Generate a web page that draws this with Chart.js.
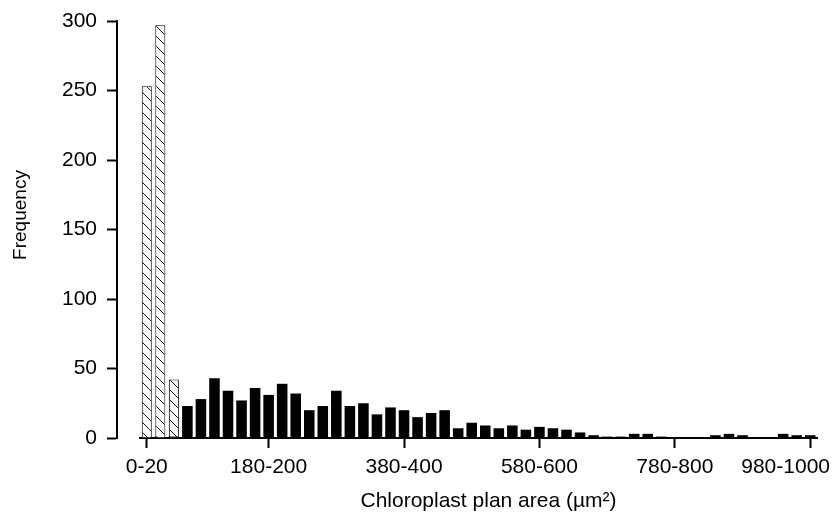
<!DOCTYPE html>
<html>
<head>
<meta charset="utf-8">
<script src="https://cdn.jsdelivr.net/npm/chart.js@4.4.1/dist/chart.umd.min.js"></script>
<style>
  html, body { margin: 0; padding: 0; background: #ffffff; }
  canvas { display: block; }
</style>
</head>
<body>
<canvas id="chart" width="840" height="524"></canvas>
<script>
// ---- data ----
const categories = [
  "0-20","20-40","40-60","60-80","80-100","100-120","120-140","140-160","160-180","180-200",
  "200-220","220-240","240-260","260-280","280-300","300-320","320-340","340-360","360-380","380-400",
  "400-420","420-440","440-460","460-480","480-500","500-520","520-540","540-560","560-580","580-600",
  "600-620","620-640","640-660","660-680","680-700","700-720","720-740","740-760","760-780","780-800",
  "800-820","820-840","840-860","860-880","880-900","900-920","920-940","940-960","960-980","980-1000"
];
const hatchedValues = [253, 297, 42];
const solidValues = [
  0, 0, 1, 23, 28, 43, 34, 27, 36, 31,
  39, 32, 20, 23, 34, 23, 25, 17, 22, 20,
  15, 18, 20, 7, 11, 9, 7, 9, 6, 8,
  7, 6, 4, 2, 1, 1, 3, 3, 1, 0,
  0, 0, 2, 3, 2, 0, 0, 3, 2, 2
];
const tickLabels = ["0-20", "180-200", "380-400", "580-600", "780-800", "980-1000"];
const yMin = 0, yMax = 300, yStep = 50;
const xTitle = "Chloroplast plan area (µm²)";
const yTitle = "Frequency";

// ---- styling ----
const FONT = "'Liberation Sans', Arial, Helvetica, sans-serif";
Chart.defaults.color = '#000';
Chart.defaults.font.family = FONT;

function hatchPattern() {
  const c = document.createElement('canvas');
  c.width = 10; c.height = 10;
  const g = c.getContext('2d');
  g.fillStyle = '#ffffff';
  g.fillRect(0, 0, 10, 10);
  g.strokeStyle = '#111';
  g.lineWidth = 1;
  g.beginPath();
  g.moveTo(-1, -1); g.lineTo(11, 11);
  g.moveTo(-1, 9); g.lineTo(1, 11);
  g.moveTo(9, -1); g.lineTo(11, 1);
  g.stroke();
  return g.createPattern(c, 'repeat');
}

const axisPlacement = {
  id: 'axisPlacement',
  afterLayout(chart) {
    const { y, xt, yt } = chart.scales;
    const gap = 23;              // y axis sits apart from the first bar
    y.left -= gap; y.right -= gap;
    // title-only scales
    yt.left = 9.3; yt.right = yt.left + 25;
    yt.top = 170; yt.bottom = 260;
    xt.left = 338.5; xt.right = 638.5;
    xt.top = 490; xt.bottom = 513.6;
  },
  beforeDraw(chart) {
    const x = chart.scales.x;
    const items = x.getLabelItems();
    const last = items[items.length - 1];
    if (last) {
      last.options.textAlign = 'right';
      last.options.translation[0] = chart.width - 10;
    }
  }
};

const tickFont = { family: FONT, size: 21 };

new Chart(document.getElementById('chart'), {
  type: 'bar',
  data: {
    labels: categories,
    datasets: [
      {
        label: 'solid',
        data: solidValues,
        backgroundColor: '#000',
        borderWidth: 0,
        grouped: false,
        categoryPercentage: 1,
        barPercentage: 0.78,
        order: 0
      },
      {
        label: 'hatched',
        data: hatchedValues,
        backgroundColor: hatchPattern(),
        borderColor: '#000',
        borderWidth: 1,
        grouped: false,
        categoryPercentage: 1,
        barPercentage: 0.74,
        order: 1
      }
    ]
  },
  options: {
    responsive: false,
    animation: false,
    devicePixelRatio: 1,
    layout: { padding: { top: 21, right: 23, bottom: 0, left: 0 } },
    plugins: { legend: { display: false }, tooltip: { enabled: false }, title: { display: false } },
    scales: {
      x: {
        type: 'category',
        offset: true,
        grid: { display: true, drawOnChartArea: false, offset: false, tickLength: 10, tickWidth: 2, tickColor: '#000' },
        border: { display: true, color: '#000', width: 2 },
        ticks: { autoSkip: false, maxRotation: 0, minRotation: 0, padding: 7, color: '#000', font: tickFont },
        afterBuildTicks: (s) => { s.ticks = s.ticks.filter(t => tickLabels.includes(categories[t.value])); },
        afterFit: (s) => { s.height = 86; s.paddingLeft = 0; s.paddingRight = 0; }
      },
      y: {
        type: 'linear',
        position: 'left',
        min: yMin,
        max: yMax,
        grid: { display: true, drawOnChartArea: false, tickLength: 10, tickWidth: 2, tickColor: '#000' },
        border: { display: true, color: '#000', width: 2 },
        ticks: { stepSize: yStep, padding: 10, color: '#000', font: tickFont },
        afterFit: (s) => { s.width = 140; s.paddingTop = 0; s.paddingBottom = 0; }
      },
      xt: {
        type: 'linear',
        axis: 'x',
        position: 'bottom',
        grid: { display: false },
        border: { display: false },
        ticks: { display: false },
        title: { display: true, text: xTitle, color: '#000', font: { family: FONT, size: 21 }, padding: 0 },
        afterFit: (s) => { s.height = 0; s.paddingLeft = 0; s.paddingRight = 0; }
      },
      yt: {
        type: 'linear',
        axis: 'y',
        position: 'left',
        grid: { display: false },
        border: { display: false },
        ticks: { display: false },
        title: { display: true, text: yTitle, color: '#000', font: { family: FONT, size: 19 }, padding: 0 },
        afterFit: (s) => { s.width = 0; s.paddingTop = 0; s.paddingBottom = 0; }
      }
    }
  },
  plugins: [axisPlacement]
});
</script>
</body>
</html>
